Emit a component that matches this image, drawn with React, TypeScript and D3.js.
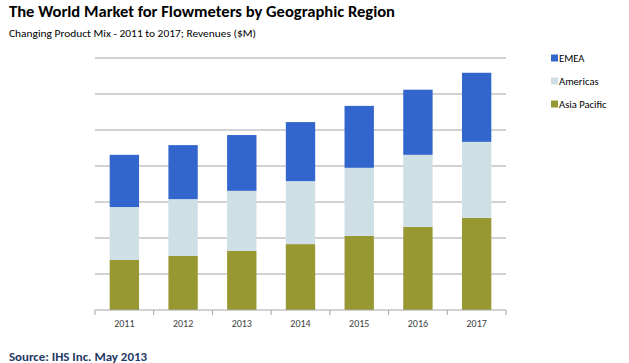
import React from "react";
import * as d3 from "d3";

const years = ["2011", "2012", "2013", "2014", "2015", "2016", "2017"];
const asiaPacific = [139, 150, 164, 183, 206, 231, 256];
const americas = [147, 158, 167, 175, 189, 200, 211];
const emea = [145, 150, 155, 164, 172, 181, 192];
const seriesNames = ["Asia Pacific", "Americas", "EMEA"];
const legendOrder = ["EMEA", "Americas", "Asia Pacific"];
const gridTicks = [0, 100, 200, 300, 400, 500, 600, 700];

const colors: Record<string, string> = {
  EMEA: "#3366CC",
  Americas: "#CFDFE6",
  "Asia Pacific": "#989833",
};

const W = 629;
const H = 363;
const plot = { left: 95, right: 506, top: 58, bottom: 310 };
const font = "Carlito, 'Open Sans', 'Liberation Sans', sans-serif";

export default function App() {
  const rows = years.map((y, i) => ({
    year: y,
    "Asia Pacific": asiaPacific[i],
    Americas: americas[i],
    EMEA: emea[i],
  }));
  const x = d3.scaleBand().domain(years).range([plot.left, plot.right]).paddingInner(0.5).paddingOuter(0.25);
  const xb = d3.scaleBand().domain(years).range([plot.left, plot.right]);
  const y = d3.scaleLinear().domain([0, 700]).range([plot.bottom, plot.top]);
  const stack = d3.stack<any>().keys(seriesNames)(rows);

  return (
    <svg width={W} height={H} style={{ position: "absolute", left: 0, top: 0, background: "#fff" }}>
      <text x={9} y={17} fontFamily={font} fontWeight="bold" fontSize={15.5} fill="#000"
        textLength={386} lengthAdjust="spacingAndGlyphs">
        The World Market for Flowmeters by Geographic Region
      </text>
      <text x={9} y={36.5} fontFamily={font} fontSize={10} fill="#000"
        textLength={247} lengthAdjust="spacingAndGlyphs">
        Changing Product Mix - 2011 to 2017;  Revenues ($M)
      </text>
      {gridTicks.slice(1).map((t) => (
        <line key={t} x1={plot.left} x2={plot.right} y1={y(t)} y2={y(t)} stroke="#A6A6A6" strokeWidth={1} />
      ))}
      {stack.map((s) => (
        <g key={s.key} fill={colors[s.key]}>
          {s.map((d, i) => (
            <rect key={i} x={x(years[i])} width={x.bandwidth()} y={y(d[1])} height={y(d[0]) - y(d[1])} />
          ))}
        </g>
      ))}
      <line x1={plot.left} x2={plot.right} y1={y(0)} y2={y(0)} stroke="#A6A6A6" strokeWidth={1} />
      {years.concat(["end"]).map((yr, i) => {
        const px = i < years.length ? (xb(yr) as number) : plot.right;
        return <line key={yr} x1={px} x2={px} y1={y(0)} y2={y(0) + 5} stroke="#A6A6A6" strokeWidth={1} />;
      })}
      {years.map((yr) => (
        <text key={yr} x={(xb(yr) as number) + xb.bandwidth() / 2} y={327} textAnchor="middle"
          fontFamily={font} fontSize={10} fill="#404040">
          {yr}
        </text>
      ))}
      {legendOrder.map((name, i) => (
        <g key={name} transform={`translate(551, ${58 + i * 23})`}>
          <rect x={0} y={-3.5} width={7} height={7} fill={colors[name]} />
          <text x={8} y={3.5} fontFamily={font} fontSize={10.6} fill="#000">{name}</text>
        </g>
      ))}
      <text x={9} y={360.5} fontFamily={font} fontWeight="bold" fontSize={12} fill="#1F3864"
        textLength={138} lengthAdjust="spacingAndGlyphs">
        Source: IHS Inc. May 2013
      </text>
    </svg>
  );
}
